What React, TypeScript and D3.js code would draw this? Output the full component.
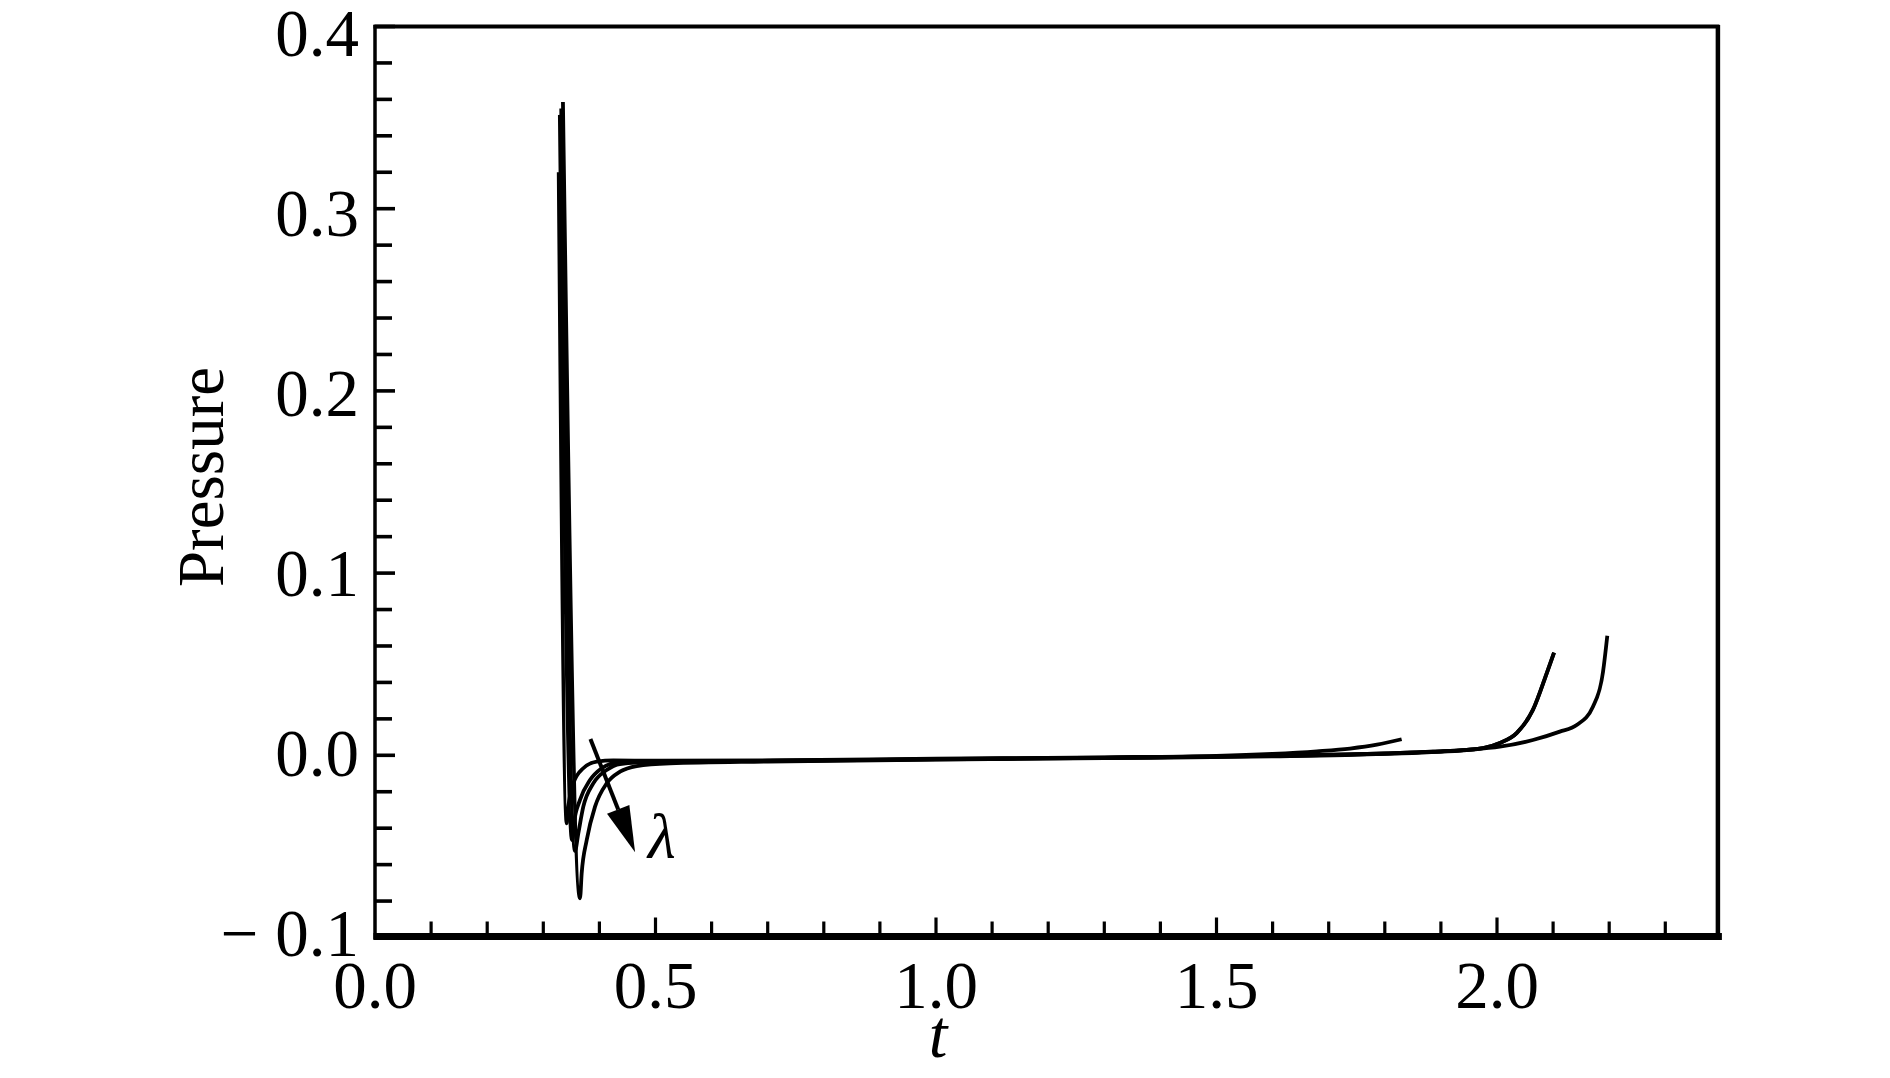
import React from "react";
import * as d3 from "d3";

// ---- data (t, pressure) ----
const curve1: [number, number][] = [
  [0.3275, 0.32], [0.3417, -0.0373], [0.3446, -0.0282], [0.3535, -0.0154], [0.3713, -0.0071],
  [0.3952, -0.0035], [0.4248, -0.0028], [0.5, -0.003], [0.7, -0.0028], [1.0, -0.0019],
  [1.3, -0.0011], [1.5, -0.0003], [1.6, 0.0008], [1.679, 0.0022], [1.738, 0.0037],
  [1.786, 0.0058], [1.83, 0.0088],
];
const curve2: [number, number][] = [
  [0.3295, 0.3515], [0.3512, -0.0465], [0.3545, -0.0373], [0.3654, -0.0245], [0.3832, -0.0136],
  [0.4041, -0.0071], [0.4308, -0.0041], [0.5, -0.0034], [0.7, -0.003], [1.0, -0.0021],
  [1.3, -0.0013], [1.6, -0.0003], [1.8, 0.001], [1.886, 0.002], [1.975, 0.004],
  [2.005, 0.0068], [2.035, 0.0122], [2.064, 0.0249], [2.0886, 0.045], [2.1016, 0.0563],
];
const curve3: [number, number][] = [
  [0.332, 0.355], [0.3565, -0.0525], [0.3624, -0.0428], [0.3713, -0.0282], [0.3891, -0.0154],
  [0.413, -0.0081], [0.4367, -0.0048], [0.5, -0.0036], [0.7, -0.0031], [1.0, -0.0022],
  [1.3, -0.0014], [1.6, -0.0003], [1.8, 0.001], [1.886, 0.002], [1.975, 0.004],
  [2.005, 0.0068], [2.035, 0.0122], [2.064, 0.0249], [2.0886, 0.045], [2.1016, 0.0563],
];
const curve4: [number, number][] = [
  [0.335, 0.3586], [0.3654, -0.0785], [0.3684, -0.0648], [0.3774, -0.0465], [0.3922, -0.0282],
  [0.413, -0.0154], [0.4367, -0.009], [0.4665, -0.0059], [0.5258, -0.0044], [0.7, -0.0034],
  [1.0, -0.0024], [1.3, -0.0016], [1.6, -0.0006], [1.8, 0.0008], [1.946, 0.0029],
  [2.005, 0.0047], [2.064, 0.0084], [2.112, 0.013], [2.142, 0.0166], [2.171, 0.0267],
  [2.189, 0.0459], [2.1966, 0.0656],
];
const series = [curve1, curve2, curve3, curve4];

const xMajorTicks = [0, 0.5, 1.0, 1.5, 2.0];
const yMajorTicks = [-0.1, 0.0, 0.1, 0.2, 0.3, 0.4];
const xLabel = "t";
const yLabel = "Pressure";
const arrowLabel = "λ";
const arrowFrom: [number, number] = [0.384, 0.0089];
const arrowTo: [number, number] = [0.4636, -0.0532];

const W = 1890;
const H = 1078;
const FONT = "'Liberation Serif', 'Times New Roman', serif";

export default function App() {
  const x = d3.scaleLinear().domain([0, 2.4]).range([375, 1721.4]);
  const y = d3.scaleLinear().domain([-0.1, 0.4]).range([937.5, 26.5]);
  const yLab = d3.scaleLinear().domain([0.4, -0.1]).range([33.5, 934]);

  const line = d3
    .line<[number, number]>()
    .x((d) => x(d[0]))
    .y((d) => y(d[1]))
    .curve(d3.curveMonotoneX);

  const xMinor = d3.range(1, 24).map((i) => i / 10);
  const yMinor = d3.range(0, 26).map((i) => -0.1 + i * 0.02);
  const fmt = d3.format(".1f");
  const yFmt = (v: number) => (v < -1e-9 ? "\u2212 " + fmt(-v) : fmt(Math.abs(v)));

  const left = x(0);
  const right = x(2.4);
  const top = y(0.4);
  const bottom = 936.5;

  // arrow geometry
  const ax1 = x(arrowFrom[0]);
  const ay1 = y(arrowFrom[1]);
  const ax2 = x(arrowTo[0]);
  const ay2 = y(arrowTo[1]);
  const ang = Math.atan2(ay2 - ay1, ax2 - ax1);
  const headLen = 46;
  const headW = 12;
  const bx = ax2 - headLen * Math.cos(ang);
  const by = ay2 - headLen * Math.sin(ang);
  const px = -Math.sin(ang);
  const py = Math.cos(ang);
  const head = `M${ax2},${ay2}L${bx + headW * px},${by + headW * py}L${bx - headW * px},${by - headW * py}Z`;

  return (
    <div style={{ position: "fixed", left: 0, top: 0, width: W, height: H, background: "#fff" }}>
      <svg width={W} height={H} style={{ display: "block" }}>
        <rect x={0} y={0} width={W} height={H} fill="#fff" />
        {/* curves */}
        {series.map((s, i) => (
          <path key={i} d={line(s) || ""} fill="none" stroke="#000" strokeWidth={3.8} strokeLinejoin="round" />
        ))}
        {/* frame */}
        <line x1={left - 1.5} x2={right - 2} y1={top} y2={top} stroke="#000" strokeWidth={3.8} />
        <line x1={left} x2={left} y1={top - 1.5} y2={bottom + 3} stroke="#000" strokeWidth={3.5} />
        <line x1={right - 3.5} x2={right - 3.5} y1={top - 1.5} y2={bottom} stroke="#000" strokeWidth={4.5} />
        <rect x={left - 1.5} y={bottom - 3.5} width={right - left + 2} height={7} fill="#000" />
        {/* x ticks */}
        {xMinor.map((t) => {
          const major = xMajorTicks.some((m) => Math.abs(m - t) < 1e-6);
          return (
            <line key={"xt" + t} x1={x(t)} x2={x(t)} y1={bottom - 3} y2={bottom - 3 - (major ? 16 : 12)} stroke="#000" strokeWidth={3.2} />
          );
        })}
        {/* y ticks */}
        {yMinor.map((v) => {
          const major = yMajorTicks.some((m) => Math.abs(m - v) < 1e-6);
          return (
            <line key={"yt" + v.toFixed(2)} x1={left} x2={left + (major ? 20 : 17)} y1={y(v)} y2={y(v)} stroke="#000" strokeWidth={3.6} />
          );
        })}
        {/* x tick labels */}
        {xMajorTicks.map((t) => (
          <text key={"xl" + t} x={x(t)} y={1008} textAnchor="middle" fontFamily={FONT} fontSize={67}>
            {fmt(t)}
          </text>
        ))}
        {/* y tick labels */}
        {yMajorTicks.map((v) => (
          <text key={"yl" + v} x={359} y={yLab(v) + 22} textAnchor="end" fontFamily={FONT} fontSize={67}>
            {yFmt(v)}
          </text>
        ))}
        {/* axis titles */}
        <text x={938} y={1057} textAnchor="middle" fontFamily={FONT} fontSize={67} fontStyle="italic">
          {xLabel}
        </text>
        <text
          transform={`translate(223,477) rotate(-90)`}
          textAnchor="middle"
          fontFamily={FONT}
          fontSize={65}
        >
          {yLabel}
        </text>
        {/* lambda arrow */}
        <line x1={ax1} y1={ay1} x2={bx} y2={by} stroke="#000" strokeWidth={4} />
        <path d={head} fill="#000" />
        <text x={648} y={858} fontFamily={FONT} fontSize={64} fontStyle="italic">
          {arrowLabel}
        </text>
      </svg>
    </div>
  );
}
